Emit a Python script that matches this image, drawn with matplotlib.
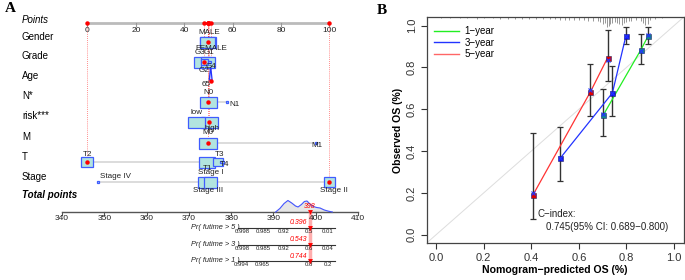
import matplotlib
matplotlib.use("Agg")
import matplotlib.pyplot as plt
import numpy as np
from matplotlib.patches import Rectangle, Polygon

plt.rcParams['font.family'] = ['Liberation Sans', 'DejaVu Sans']

# ================= DATA: Panel A (nomogram) =================
points_ticks = [0, 20, 40, 60, 80, 100]

var_names = ["Gender", "Grade", "Age", "N*", "risk***", "M", "T", "Stage"]

gender_levels = ["MALE", "FEMALE"]
gender_pts = [49.8, 49.6]
gender_freq = [0.45, 0.42]

grade_levels = ["G1", "G2", "G3", "G4"]
grade_pts = [50.3, 48.3, 47.3, 49.8]
grade_freq = [0.02, 0.10, 0.45, 0.30]

age_value_label = "65"
age_pts = [50.2, 50.8, 50.9, 51.2, 51.8]
age_width = [0.0, 0.3, 1.0, 0.3, 0.0]

n_levels = ["N0", "N1"]
n_pts = [49.8, 57.6]
n_freq = [0.50, 0.002]

risk_levels = ["low", "high"]
risk_pts = [45.0, 50.4]
risk_freq = [0.50, 0.50]

m_levels = ["M0", "M1"]
m_pts = [49.8, 94.4]
m_freq = [0.55, 0.002]

t_levels = ["T1", "T2", "T3", "T4"]
t_pts = [49.4, 0.0, 53.9, 55.6]
t_freq = [0.45, 0.25, 0.16, 0.02]

stage_levels = ["Stage I", "Stage II", "Stage III", "Stage IV"]
stage_pts = [51.0, 100.0, 48.6, 4.3]
stage_freq = [0.30, 0.20, 0.40, 0.005]

# selected observation (index of level) per variable
selected = {"Gender": 0, "Grade": 1, "N*": 0, "risk***": 1, "M": 0, "T": 1, "Stage": 1}
age_selected_pts = 50.9

total_ticks = [340, 350, 360, 370, 380, 390, 400, 410]
total_score = 398.6
total_label = "398"
dens_tp = [390.5, 391.5, 392.5, 393.4, 394.3, 395.2, 395.8, 396.6, 397.3, 397.9, 398.6, 399.4, 400.2, 401.0, 402.0, 403.0, 403.9]
dens_h = [0.0, 3.5, 8.5, 11.5, 9.0, 6.0, 5.0, 7.5, 10.5, 11.0, 8.0, 5.5, 4.5, 4.0, 2.0, 0.8, 0.0]

pr_labels = ["Pr( futime > 5 )", "Pr( futime > 3 )", "Pr( futime > 1 )"]
pr_values = ["0.396", "0.543", "0.744"]
pr5_ticks = ["0.998", "0.985", "0.92", "0.5", "0.01"]
pr5_pos = [382.6, 387.6, 392.3, 398.3, 402.9]
pr3_ticks = ["0.998", "0.985", "0.92", "0.6", "0.04"]
pr3_pos = [382.6, 387.6, 392.3, 398.3, 402.9]
pr1_ticks = ["0.994", "0.965", "0.8", "0.2"]
pr1_pos = [382.4, 387.3, 398.3, 402.9]
pr_range = [381.6, 404.6]

# ================= DATA: Panel B (calibration) =================
y1_pred = [0.703, 0.861, 0.892]
y1_obs = [0.573, 0.885, 0.952]
y1_lo = [0.472, 0.817, 0.911]
y1_hi = [0.698, 0.960, 0.994]
y1_cor = [0.578, 0.880, 0.955]

y3_pred = [0.521, 0.741, 0.798]
y3_obs = [0.365, 0.678, 0.952]
y3_lo = [0.259, 0.570, 0.911]
y3_hi = [0.515, 0.809, 0.994]
y3_cor = [0.365, 0.680, 0.950]

y5_pred = [0.406, 0.648, 0.721]
y5_obs = [0.188, 0.682, 0.847]
y5_lo = [0.075, 0.570, 0.737]
y5_hi = [0.484, 0.815, 0.979]
y5_cor = [0.199, 0.690, 0.836]

rug_x = [0.02, 0.06, 0.10, 0.13, 0.17, 0.20, 0.24, 0.27, 0.30, 0.33, 0.36, 0.39, 0.42, 0.45,
         0.48, 0.50, 0.52, 0.54, 0.56, 0.58, 0.60, 0.62, 0.64, 0.66, 0.68, 0.69, 0.70, 0.71,
         0.72, 0.725, 0.73, 0.74, 0.75, 0.76, 0.77, 0.78, 0.79, 0.80, 0.81, 0.82, 0.84, 0.86,
         0.87, 0.88, 0.89, 0.90, 0.92, 0.95]
rug_len = [0.004, 0.004, 0.005, 0.004, 0.006, 0.005, 0.005, 0.006, 0.006, 0.007, 0.007, 0.008,
           0.008, 0.009, 0.010, 0.009, 0.011, 0.012, 0.012, 0.013, 0.015, 0.014, 0.016, 0.018,
           0.020, 0.022, 0.030, 0.025, 0.045, 0.040, 0.030, 0.025, 0.022, 0.025, 0.030, 0.035,
           0.028, 0.022, 0.018, 0.016, 0.015, 0.020, 0.025, 0.035, 0.030, 0.015, 0.008, 0.004]

cindex_lines = ["C\u2212index:", "0.745(95% CI: 0.689\u22120.800)"]
legend_labels = ["1\u2212year", "3\u2212year", "5\u2212year"]

# ================= FIGURE =================
W, H = 685, 280
fig = plt.figure(figsize=(W / 100, H / 100), dpi=100)

# ---------- Panel A ----------
PX_PER_PT = 2.42
PT0_PX = 87.5
axA = fig.add_axes([0, 0, 1, 1])
axA.set_xlim(-PT0_PX / PX_PER_PT, (W - PT0_PX) / PX_PER_PT)
axA.set_ylim(H, 0)
axA.axis('off')

def pw(px):  # pixel width -> points units
    return px / PX_PER_PT

TP0_PX, TP_PX = 62.0, 4.23
def tp2pt(tp):
    return (TP0_PX + (np.asarray(tp) - 340) * TP_PX - PT0_PX) / PX_PER_PT

label_x = pw(22) - PT0_PX / PX_PER_PT
lab_fs = 7
lvl_fs = 5.8
box_fc = '#b2e4df'
box_ec = '#3f5cff'
red = '#ff0000'

# row layout (pixel y)
row_label_y = {"Points": 20, "Gender": 37, "Grade": 56, "Age": 76, "N*": 96, "risk***": 116,
               "M": 137, "T": 157, "Stage": 177}
row_mark_y = {"Gender": 42, "Grade": 62, "Age": 74, "N*": 102, "risk***": 122, "M": 143,
              "T": 162, "Stage": 182}

axA.text(pw(5) - PT0_PX / PX_PER_PT, 9, "A", fontsize=11, fontweight='bold',
         family='Liberation Serif', va='center', ha='left')

axA.text(label_x, row_label_y["Points"], "Points", fontsize=lab_fs, style='italic', va='center')
for nm in var_names:
    axA.text(label_x, row_label_y[nm], nm, fontsize=lab_fs, va='center')
axA.text(label_x, 195, "Total points", fontsize=lab_fs, style='italic', fontweight='bold', va='center')

# points axis
axA.plot([points_ticks[0], points_ticks[-1]], [23, 23], color='#bbbbbb', lw=2, solid_capstyle='butt', zorder=2)
for t in points_ticks:
    axA.plot([t, t], [23, 26], color='#999999', lw=0.8, zorder=2)
    axA.text(t, 31, str(t), fontsize=6, ha='center', va='center', color='#222222')

# variable rows: (levels, pts, freq, label layout [(dx_px, dy_px, ha)])
rows = [
    ("Gender", gender_levels, gender_pts, gender_freq, [(1, -9, 'center'), (4, 6, 'center')]),
    ("Grade", grade_levels, grade_pts, grade_freq, [(0, -10, 'center'), (0, 8, 'center'), (-2, -10, 'center'), (3, 4.5, 'center')]),
    ("N*", n_levels, n_pts, n_freq, [(0, -9, 'center'), (2, 3, 'left')]),
    ("risk***", risk_levels, risk_pts, risk_freq, [(0, -9, 'center'), (3, 6, 'center')]),
    ("M", m_levels, m_pts, m_freq, [(0, -11, 'center'), (1, 2.5, 'center')]),
    ("T", t_levels, t_pts, t_freq, [(0, 7, 'center'), (0, -8, 'center'), (2, -8, 'center'), (2, 3, 'center')]),
    ("Stage", stage_levels, stage_pts, stage_freq, [(0, -10, 'center'), (4, 8, 'center'), (3, 8, 'center'), (2, -5, 'left')]),
]

sel_pts = {}
for name, levels, pts, freq, labs in rows:
    y = row_mark_y[name]
    if max(pts) - min(pts) > 0.5:
        axA.plot([min(pts), max(pts)], [y, y], color='#d9d9d9', lw=1.3, zorder=1)
    order = np.argsort(freq)[::-1]
    for i in order:
        w = 24 * np.sqrt(freq[i])
        w = max(w, 2.0)
        h = min(w * 0.85, 11)
        axA.add_patch(Rectangle((pts[i] - pw(w) / 2, y - h / 2), pw(w), h, facecolor=box_fc,
                                edgecolor=box_ec, lw=0.9, zorder=3))
    for i, lv in enumerate(levels):
        dx, dy, ha = labs[i]
        axA.text(pts[i] + pw(dx), y + dy, lv, fontsize=lvl_fs, ha=ha, va='center', color='#222222', zorder=5)
    sel_pts[name] = (pts[selected[name]], y)

# Age (continuous): small violin shape
ya = row_mark_y["Age"]
age_poly_x = list(age_pts) + list(age_pts[::-1])
age_poly_y = [ya + 5 - 0 for _ in age_pts]
vx = [age_pts[0], age_pts[2], age_pts[-1]]
axA.add_patch(Polygon([[age_pts[2] - 0.6, ya + 6], [age_pts[2], ya - 7], [age_pts[2] + 0.6, ya + 6]],
                      closed=True, facecolor='#c8ccff', edgecolor='#2233ff', lw=0.9, zorder=3))
axA.text(age_selected_pts - pw(5), ya + 11, age_value_label, fontsize=lvl_fs, ha='center', va='center', color='#222222', zorder=5)
sel_pts["Age"] = (age_selected_pts, ya + 7)

# red selected dots + dotted guides
for name, (p, y) in sel_pts.items():
    axA.plot([p, p], [23, y], color=red, lw=0.6, ls=(0, (1, 1.5)), alpha=0.6, zorder=2)
    axA.plot(p, y, 'o', color=red, ms=3.2, mec='none', zorder=6)
    axA.plot(p, 23, 'o', color=red, ms=3.2, mec='none', zorder=6)

# total points axis
TY = 212
axA.plot(tp2pt([total_ticks[0], total_ticks[-1]]), [TY, TY], color='#555555', lw=1, zorder=2)
for t in total_ticks:
    axA.plot([tp2pt(t)] * 2, [TY, TY + 3], color='#555555', lw=0.8)
    axA.text(tp2pt(t), TY + 7, str(t), fontsize=6, ha='center', va='center', color='#222222')
dx_ = tp2pt(dens_tp)
dy_ = TY - np.asarray(dens_h)
axA.fill_between(dx_, dy_, TY, color='#e6e6e6', zorder=1)
axA.plot(dx_, dy_, color='#4455ff', lw=0.8, zorder=2)

# red total marker and vertical band
xs = tp2pt(total_score)
axA.plot([xs, xs], [TY, 262], color='#ff9999', lw=2.5, alpha=0.8, zorder=2)
axA.plot(xs, TY, 'v', color=red, ms=3.5, mec='none', zorder=6)
axA.text(xs, TY - 6, total_label, fontsize=5, color=red, style='italic', ha='center', va='center', zorder=6)

# probability axes
pr_y = [228, 244.5, 261]
pr_ticks = [(pr5_ticks, pr5_pos), (pr3_ticks, pr3_pos), (pr1_ticks, pr1_pos)]
for k in range(3):
    y = pr_y[k]
    axA.plot(tp2pt(pr_range), [y, y], color='#333333', lw=0.8, zorder=3)
    axA.text(tp2pt(pr_range[0]) + pw(2), y - 0.5, pr_labels[k], fontsize=5.3, style='italic',
             ha='right', va='center', color='#222222')
    labs, pos = pr_ticks[k]
    for lb, ps in zip(labs, pos):
        axA.text(tp2pt(ps), y + 3.5, lb, fontsize=4.3, ha='center', va='center', color='#222222')
    axA.plot(xs, y, 'v', color=red, ms=3.5, mec='none', zorder=6)
    axA.text(xs - pw(11), y - 5, pr_values[k], fontsize=5, color=red, style='italic',
             ha='center', va='center', zorder=6)

# ---------- Panel B ----------
L, R_, T_, B_ = 426.7, 683.5, 17.3, 243.0
axB = fig.add_axes([L / W, 1 - B_ / H, (R_ - L) / W, (B_ - T_) / H])
axB.set_xlim(-0.04, 1.04)
axB.set_ylim(-0.04, 1.04)
axB.set_facecolor('none')
axB.axline((0, 0), slope=1, color='#dddddd', lw=0.7, zorder=1)
axB.vlines(rug_x, 1.04 - np.asarray(rug_len), 1.04, color='#888888', lw=0.6, zorder=2)

series = [
    (y1_pred, y1_obs, y1_lo, y1_hi, y1_cor, '#22ee22', '#118888'),
    (y3_pred, y3_obs, y3_lo, y3_hi, y3_cor, '#2233ff', '#1111ee'),
    (y5_pred, y5_obs, y5_lo, y5_hi, y5_cor, '#ff3333', '#dd0000'),
]
for xp, yo, lo, hi, yc, lc, mc in series:
    xp, yo, lo, hi = map(np.asarray, (xp, yo, lo, hi))
    axB.errorbar(xp, yo, yerr=[yo - lo, hi - yo], fmt='none', ecolor='#333333', elinewidth=1,
                 capsize=2.2, capthick=0.9, zorder=3)
    axB.plot(xp, yo, color=lc, lw=0.9, zorder=4)
    axB.plot(xp, yo, 's', color=mc, ms=3.6, mec='#222266', mew=0.4, zorder=5)
    axB.plot(xp, yc, 'x', color='#2233ff', ms=3.2, mew=0.8, zorder=6)

# legend
for lab, c in zip(legend_labels, ['#22ee22', '#2233ff', '#ff6666']):
    axB.plot([], [], color=c, lw=1, label=lab)
leg = axB.legend(loc='upper left', frameon=False, fontsize=7, handlelength=2.6, handletextpad=0.6,
                 labelspacing=0.15, borderaxespad=0.3, bbox_to_anchor=(0.0, 0.99))

axB.text(0.424, 0.10, cindex_lines[0], fontsize=7, ha='left', va='center', color='#222222')
axB.text(0.462, 0.035, cindex_lines[1], fontsize=7, ha='left', va='center', color='#222222')

ticks = [0.0, 0.2, 0.4, 0.6, 0.8, 1.0]
axB.set_xticks(ticks)
axB.set_xticklabels([f"{t:.1f}" for t in ticks])
axB.set_yticks(ticks)
axB.set_yticklabels([f"{t:.1f}" for t in ticks], rotation=90, va='center')
axB.tick_params(direction='out', length=4.5, width=0.8, labelsize=8, colors='#333333', pad=2.5)
for s in axB.spines.values():
    s.set_linewidth(0.9)
    s.set_color('#444444')
axB.set_xlabel("Nomogram\u2212predicted OS (%)", fontsize=7.6, fontweight='bold', labelpad=1.5)
axB.set_ylabel("Observed OS (%)", fontsize=7.6, fontweight='bold', labelpad=3)

fig.text(382 / W, 1 - 10 / H, "B", fontsize=11, fontweight='bold', family='Liberation Serif',
         ha='center', va='center')

fig.savefig("out.png", dpi=100)
